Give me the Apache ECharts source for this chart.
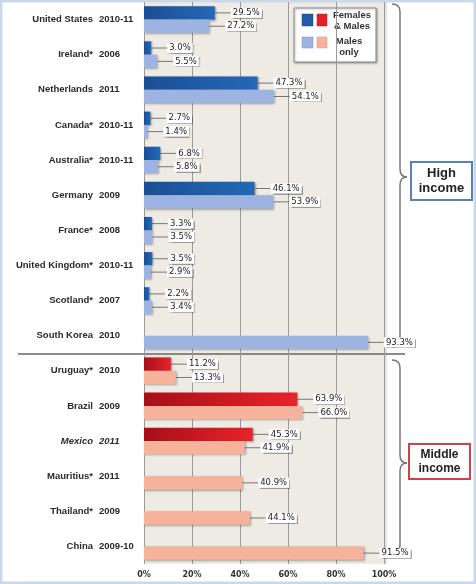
<!DOCTYPE html>
<html><head><meta charset="utf-8">
<script src="https://cdn.jsdelivr.net/npm/echarts@6/dist/echarts.min.js"></script>
<style>html,body{margin:0;padding:0;background:#fff}#c{width:476px;height:584px}</style>
</head><body><div id="c"></div>
<script>
const countries = ['United States','Ireland*','Netherlands','Canada*','Australia*','Germany','France*','United Kingdom*','Scotland*','South Korea','Uruguay*','Brazil','Mexico','Mauritius*','Thailand*','China'];
const years = ['2010-11','2006','2011','2010-11','2010-11','2009','2008','2010-11','2007','2010','2010','2009','2011','2011','2009','2009-10'];
const femalesAndMales = [29.5,3.0,47.3,2.7,6.8,46.1,3.3,3.5,2.2,null,11.2,63.9,45.3,null,null,null];
const malesOnly = [27.2,5.5,54.1,1.4,5.8,53.9,3.5,2.9,3.4,93.3,13.3,66.0,41.9,40.9,44.1,91.5];
const highIncomeCount = 10;
const xTicks = [0,20,40,60,80,100];

const chart = echarts.init(document.getElementById('c'));
const grad = (a,b)=>({type:'linear',x:0,y:0,x2:1,y2:0,colorStops:[{offset:0,color:a},{offset:1,color:b}]});
const labelCfg = {
  show:true, position:'right', distance:2,
  formatter:p=>p.value==null?'':p.value.toFixed(1)+'%',
  fontSize:8.5, fontFamily:'DejaVu Sans', color:'#222',
  backgroundColor:'#fff', padding:[1,2,0,2],
  shadowColor:'rgba(0,0,0,0.35)', shadowBlur:1, shadowOffsetX:1, shadowOffsetY:1
};
function brace(top, tip, bottom){
  const s={fill:'none', stroke:'#777', lineWidth:1.5};
  return [
    {type:'bezierCurve', shape:{x1:392,y1:top,cpx1:400,cpy1:top,x2:400,y2:top+8}, style:s},
    {type:'line', shape:{x1:400,y1:top+8,x2:400,y2:tip-8}, style:s},
    {type:'bezierCurve', shape:{x1:400,y1:tip-8,cpx1:400,cpy1:tip,x2:407,y2:tip}, style:s},
    {type:'bezierCurve', shape:{x1:407,y1:tip,cpx1:400,cpy1:tip,x2:400,y2:tip+8}, style:s},
    {type:'line', shape:{x1:400,y1:tip+8,x2:400,y2:bottom-8}, style:s},
    {type:'bezierCurve', shape:{x1:400,y1:bottom-8,cpx1:400,cpy1:bottom,x2:392,y2:bottom}, style:s}
  ];
}
const lblFont = {fontSize:9.5, fontWeight:'bold', color:'#2a2a2a', fontFamily:'Liberation Sans'};
const gx = 144, gw = 240;
chart.setOption({
  animation:false,
  grid:{left:gx, width:gw, top:2, bottom:20, show:true, backgroundColor:'#eeebe4', borderWidth:0},
  xAxis:{type:'value', min:xTicks[0], max:xTicks[xTicks.length-1], interval:20,
    axisLine:{show:false}, axisTick:{show:false},
    splitLine:{lineStyle:{color:'#9a9a9a', width:1}},
    axisLabel:{formatter:'{value}%', fontSize:8, fontWeight:'bold', color:'#333', fontFamily:'DejaVu Sans', margin:7}},
  yAxis:[
    {type:'category', inverse:true, data:countries, position:'left', offset:0,
      axisLine:{show:false}, axisTick:{show:false},
      axisLabel:Object.assign({margin:51, formatter:v=>v==='Mexico'?'{i|'+v+'}':v, rich:{i:Object.assign({fontStyle:'italic'},lblFont)}}, lblFont)},
    {type:'category', inverse:true, data:years, position:'left', offset:0,
      axisLine:{show:false}, axisTick:{show:false},
      axisLabel:Object.assign({margin:45, align:'left', formatter:(v,i)=>countries[i]==='Mexico'?'{i|'+v+'}':v, rich:{i:Object.assign({fontStyle:'italic'},lblFont)}}, lblFont)}
  ],
  series:[
    {name:'Females & Males', type:'bar', data:femalesAndMales, barWidth:'38%', barGap:'0%',
      itemStyle:{color:p=>p.dataIndex<highIncomeCount?grad('#1a4f96','#2468b8'):grad('#a80e18','#e8232b'),
        shadowColor:'rgba(0,0,0,0.35)', shadowBlur:2, shadowOffsetX:1, shadowOffsetY:1},
      label:labelCfg, labelLayout:{dx:14}, labelLine:{show:true, lineStyle:{color:'#777', width:1}}},
    {name:'Males only', type:'bar', data:malesOnly, barWidth:'38%', barGap:'0%',
      itemStyle:{color:p=>p.dataIndex<highIncomeCount?'#9db3e2':'#f6b29b',
        shadowColor:'rgba(0,0,0,0.3)', shadowBlur:2, shadowOffsetX:1, shadowOffsetY:1},
      label:labelCfg, labelLayout:{dx:14}, labelLine:{show:true, lineStyle:{color:'#777', width:1}}}
  ],
  graphic:[
    {type:'rect', shape:{x:1,y:1,width:474,height:582}, style:{fill:'none', stroke:'#c9d9ea', lineWidth:3}, silent:true},
    {type:'line', shape:{x1:386,y1:2,x2:386,y2:564}, style:{stroke:'#c8c6c0', lineWidth:1}},
    {type:'line', shape:{x1:18,y1:354,x2:405,y2:354}, style:{stroke:'#666', lineWidth:1.5}},
    ...brace(4,177,347),
    ...brace(360,463,553),
    {type:'rect', shape:{x:411,y:162,width:61,height:38}, style:{fill:'#fff', stroke:'#5a80b8', lineWidth:2}},
    {type:'text', x:441.5, y:181, style:{text:'High\nincome', fontSize:13, fontWeight:'bold', fontFamily:'Liberation Sans', fill:'#222', align:'center', verticalAlign:'middle', lineHeight:15}},
    {type:'rect', shape:{x:409,y:444,width:61,height:35}, style:{fill:'#fff', stroke:'#d0424a', lineWidth:2}},
    {type:'text', x:439.5, y:461.5, style:{text:'Middle\nincome', fontSize:12, fontWeight:'bold', fontFamily:'Liberation Sans', fill:'#222', align:'center', verticalAlign:'middle', lineHeight:14}},
    {type:'rect', shape:{x:294,y:8,width:82,height:54}, style:{fill:'#fff', stroke:'#888', lineWidth:1, shadowColor:'rgba(0,0,0,0.3)', shadowBlur:2, shadowOffsetX:1, shadowOffsetY:1}},
    {type:'rect', shape:{x:302,y:14,width:11,height:12}, style:{fill:'#1f5ba8', stroke:'#184a8a', lineWidth:0.5}},
    {type:'rect', shape:{x:317,y:14,width:10,height:12}, style:{fill:'#e5202a', stroke:'#b01820', lineWidth:0.5}},
    {type:'rect', shape:{x:302,y:37,width:11,height:11}, style:{fill:'#9db3e2', stroke:'#7d93c2', lineWidth:0.5}},
    {type:'rect', shape:{x:317,y:37,width:10,height:11}, style:{fill:'#f6b29b', stroke:'#d4907a', lineWidth:0.5}},
    {type:'text', x:352, y:21, style:{text:'Females\n& Males', fontSize:9.5, fontWeight:'bold', fontFamily:'Liberation Sans', fill:'#333', align:'center', verticalAlign:'middle', lineHeight:11}},
    {type:'text', x:349, y:46.5, style:{text:'Males\nonly', fontSize:9.5, fontWeight:'bold', fontFamily:'Liberation Sans', fill:'#333', align:'center', verticalAlign:'middle', lineHeight:11}}
  ]
});
</script></body></html>
